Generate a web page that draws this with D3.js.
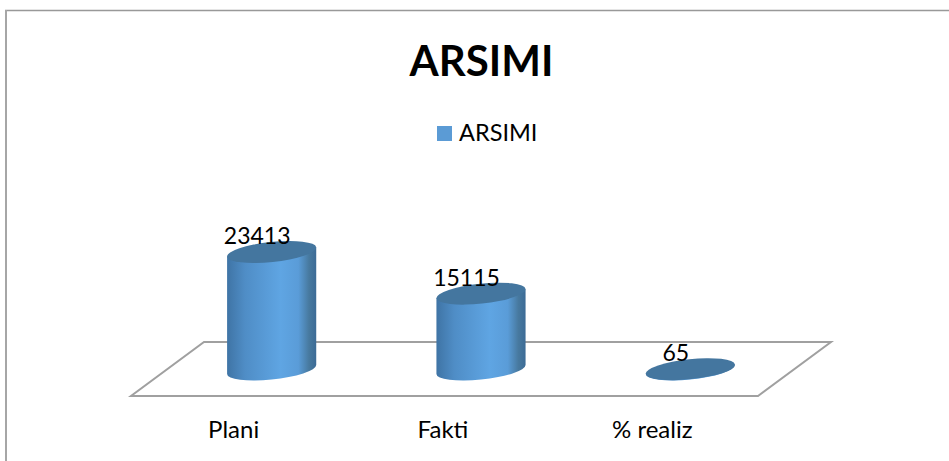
<!DOCTYPE html>
<html><head><meta charset="utf-8">
<script src="https://cdn.jsdelivr.net/npm/d3@7/dist/d3.min.js"></script>
<style>html,body{margin:0;padding:0;background:#fff}svg{display:block}text{font-family:Lato,"Open Sans",sans-serif;fill:#000}</style>
</head><body><svg id="c" width="949" height="461"></svg>
<script>
const categories = ["Plani", "Fakti", "% realiz"];
const values = [23413, 15115, 65];
const seriesName = "ARSIMI";
const chartTitle = "ARSIMI";

const W = 949, H = 461;
const svg = d3.select("#c");
const defs = svg.append("defs");
const grad = defs.append("linearGradient").attr("id", "cyl").attr("x1", 0).attr("x2", 1).attr("y1", 0).attr("y2", 0);
[[0, "#3f74a5"], [0.2, "#4f8dc6"], [0.6, "#5fa5e3"], [0.8, "#5a9cd8"], [0.92, "#47799f"], [1, "#3c6b96"]]
  .forEach(([o, c]) => grad.append("stop").attr("offset", o).attr("stop-color", c));

// chart frame (left and top edges are the only ones visible)
svg.append("line").attr("x1", 5).attr("x2", W).attr("y1", 10.5).attr("y2", 10.5).attr("stroke", "#999").attr("stroke-width", 1.5);
svg.append("line").attr("x1", 6).attr("x2", 6).attr("y1", 10).attr("y2", H).attr("stroke", "#a6a6a6").attr("stroke-width", 2);

// floor
const x = d3.scaleBand().domain(categories).range([167, 795]);
const y = d3.scaleLinear().domain([0, 23413]).range([369.5, 252]);
const floorPath = d3.path();
floorPath.moveTo(131, 396); floorPath.lineTo(758, 396); floorPath.lineTo(831, 342); floorPath.lineTo(204, 342); floorPath.closePath();
svg.append("path").attr("d", floorPath.toString()).attr("fill", "#fff").attr("stroke", "#a0a0a0").attr("stroke-width", 2);

// tilted ellipse geometry
const a = 44.8, b = 10, deg = -6, t = deg * Math.PI / 180;
const X = Math.sqrt(a*a*Math.cos(t)**2 + b*b*Math.sin(t)**2);
const dy = (a*a - b*b) * Math.sin(t) * Math.cos(t) / X;

const g = svg.append("g").selectAll("g").data(categories.map((c, i) => ({c, v: values[i]}))).join("g");
g.append("path").attr("fill", "url(#cyl)").attr("d", d => {
  const cx = x(d.c) + x.bandwidth() / 2, y0 = y(0), y1 = y(d.v);
  return `M${cx - X} ${y1 - dy}L${cx - X} ${y0 - dy}A${a} ${b} ${deg} 0 0 ${cx + X} ${y0 + dy}L${cx + X} ${y1 + dy}Z`;
});
g.append("ellipse").attr("fill", "#44769f")
  .attr("rx", a).attr("ry", b)
  .attr("transform", d => `translate(${x(d.c) + x.bandwidth() / 2},${y(d.v)}) rotate(${deg})`);

// data labels
g.append("text").attr("text-anchor", "middle").attr("font-size", 23)
  .attr("x", d => x(d.c) + x.bandwidth() / 2 - 14.5)
  .attr("y", d => y(d.v) - 8)
  .text(d => d.v);

// category labels
svg.append("g").selectAll("text").data(categories).join("text")
  .attr("text-anchor", "middle").attr("font-size", 24)
  .attr("x", d => x(d) + x.bandwidth() / 2 - 38).attr("y", 438)
  .text(d => d);

// title and legend
svg.append("text").attr("x", 481.5).attr("y", 76).attr("text-anchor", "middle")
  .attr("font-size", 42).attr("font-weight", 700).text(chartTitle);
svg.append("rect").attr("x", 437).attr("y", 126).attr("width", 15).attr("height", 15).attr("fill", "#5b9bd5");
svg.append("text").attr("x", 459).attr("y", 141).attr("font-size", 23.5).text(seriesName);
</script></body></html>
